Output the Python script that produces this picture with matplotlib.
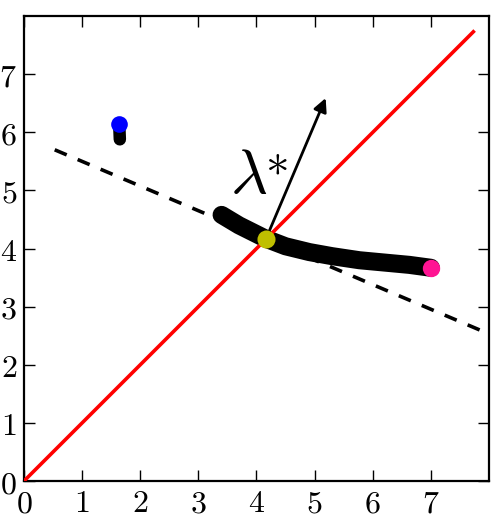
import matplotlib
matplotlib.use("Agg")
import matplotlib.pyplot as plt
from matplotlib.ticker import FormatStrFormatter

plt.rcParams['mathtext.fontset'] = 'cm'

# data
diag_x = [0, 7.73]
diag_y = [0, 7.73]
dash_x = [0.53, 7.84]
dash_y = [5.70, 2.60]
curve_x = [3.40, 3.70, 4.16, 4.50, 4.91, 5.30, 5.77, 6.20, 6.63, 7.00]
curve_y = [4.58, 4.40, 4.17, 4.04, 3.94, 3.87, 3.80, 3.76, 3.72, 3.67]
trail_x = [1.64, 1.65]
trail_y = [6.12, 5.88]
start_pt = (1.63, 6.14)
cross_pt = (4.16, 4.16)
end_pt = (7.0, 3.67)
arrow_tip = (5.19, 6.59)
label_pos = (3.55, 4.96)
star_pos = (4.15, 5.28)
ticks = [0, 1, 2, 3, 4, 5, 6, 7]

fig = plt.figure(figsize=(4.98, 5.19), dpi=100)
ax = fig.add_axes([0.048, 0.073, 0.934, 0.896])

ax.plot(dash_x, dash_y, color='k', lw=2.6, linestyle=(0, (3.6, 3.3)), zorder=1)
ax.plot(curve_x, curve_y, color='k', lw=13, solid_capstyle='round', zorder=2)
ax.plot(trail_x, trail_y, color='k', lw=9, solid_capstyle='round', zorder=2)
ax.plot(diag_x, diag_y, color='r', lw=2.6, zorder=3)
ax.annotate('', xy=arrow_tip, xytext=cross_pt,
            arrowprops=dict(arrowstyle='-|>', lw=2, color='k',
                            mutation_scale=20, shrinkA=0, shrinkB=0),
            zorder=4)
ax.plot(*start_pt, 'o', color='b', ms=12, mec='none', zorder=5)
ax.plot(*cross_pt, 'o', color=(0.75, 0.75, 0), ms=13, mec='none', zorder=5)
ax.plot(*end_pt, 'o', color='#ff1493', ms=12.5, mec='none', zorder=5)

ax.text(label_pos[0], label_pos[1], r'$\lambda$', fontsize=46,
        ha='left', va='baseline')
ax.text(star_pos[0], star_pos[1], r'$\ast$', fontsize=34,
        ha='left', va='baseline')

ax.set_xlim(0, 8)
ax.set_ylim(0, 8)
ax.set_xticks(ticks)
ax.set_yticks(ticks)
ax.xaxis.set_major_formatter(FormatStrFormatter('$%d$'))
ax.yaxis.set_major_formatter(FormatStrFormatter('$%d$'))
ax.tick_params(direction='in', top=True, right=True, length=8, width=1,
               labelsize=23, pad=5)
for s in ax.spines.values():
    s.set_linewidth(1.6)

fig.savefig("out.png", dpi=100)
